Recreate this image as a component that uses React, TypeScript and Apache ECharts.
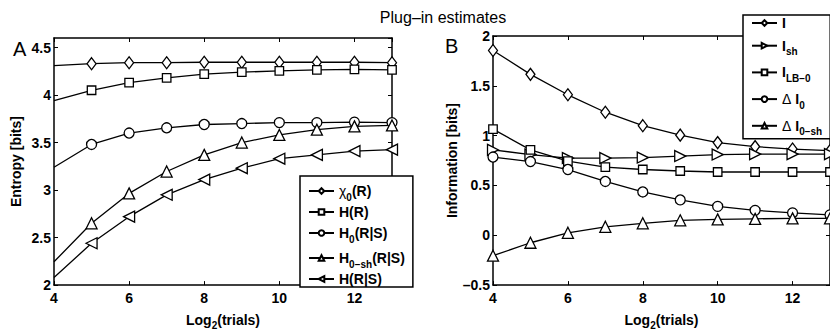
import React, { useEffect, useRef } from "react";
import * as echarts from "echarts";

const trials = [4, 5, 6, 7, 8, 9, 10, 11, 12, 13];

// Panel A (entropy)
const chi0R = [4.31, 4.33, 4.34, 4.34, 4.345, 4.345, 4.345, 4.345, 4.345, 4.34];
const hR = [3.94, 4.05, 4.13, 4.18, 4.22, 4.24, 4.255, 4.265, 4.27, 4.265];
const h0RS = [3.24, 3.48, 3.6, 3.655, 3.69, 3.7, 3.71, 3.71, 3.715, 3.71];
const h0shRS = [2.245, 2.65, 2.965, 3.195, 3.37, 3.5, 3.58, 3.635, 3.67, 3.68];
const hRS = [2.08, 2.44, 2.72, 2.95, 3.11, 3.23, 3.33, 3.37, 3.41, 3.425];

// Panel B (information)
const infoI = [1.855, 1.615, 1.41, 1.235, 1.1, 1.005, 0.93, 0.89, 0.865, 0.85];
const infoIsh = [0.857, 0.81, 0.775, 0.775, 0.78, 0.795, 0.81, 0.815, 0.815, 0.815];
const infoILB0 = [1.065, 0.857, 0.745, 0.685, 0.66, 0.645, 0.635, 0.635, 0.635, 0.635];
const deltaI0 = [0.785, 0.74, 0.66, 0.54, 0.435, 0.355, 0.29, 0.25, 0.225, 0.205];
const deltaI0sh = [-0.205, -0.075, 0.025, 0.085, 0.12, 0.15, 0.16, 0.165, 0.17, 0.17];

const FONT = "'Liberation Sans', Arial, Helvetica, sans-serif";

const legendRich: Record<string, string> = {
  "χ0(R)": "{n|χ}{s|0}{t|(R)}",
  "H(R)": "{t|H(R)}",
  "H0(R|S)": "{t|H}{s|0}{t|(R|S)}",
  "H0-sh(R|S)": "{t|H}{s|0−sh}{t|(R|S)}",
  "H(R|S)": "{t|H(R|S)}",
  "I": "{t|I}",
  "Ish": "{t|I}{s|sh}",
  "ILB-0": "{t|I}{s|LB−0}",
  "ΔI0": "{n|Δ }{t|I}{s|0}",
  "ΔI0-sh": "{n|Δ }{t|I}{s|0−sh}",
};

const rich = {
  t: { fontFamily: FONT, fontWeight: "bold", fontSize: 14, color: "#000", lineHeight: 20 },
  n: { fontFamily: FONT, fontWeight: "normal", fontSize: 14, color: "#000", lineHeight: 20 },
  s: { fontFamily: FONT, fontWeight: "bold", fontSize: 10, color: "#000", lineHeight: 8, padding: [12, 0, 0, 0] },
};

export default function App() {
  const ref = useRef<HTMLDivElement>(null);
  useEffect(() => {
    document.body.style.margin = "0";
    if (!ref.current) return;
    const chart = echarts.init(ref.current, null, { renderer: "svg" });

    const mk = (
      name: string,
      vals: number[],
      symbol: string,
      size: number | number[],
      rotate: number,
      axis: number,
      hideFirst: boolean
    ) => ({
      type: "line",
      name,
      xAxisIndex: axis,
      yAxisIndex: axis,
      symbol,
      symbolSize: size,
      symbolRotate: rotate,
      showAllSymbol: true,
      clip: false,
      data: trials.map((x, i) =>
        hideFirst && i === 0 ? { value: [x, vals[i]], symbol: "none" } : [x, vals[i]]
      ),
      lineStyle: { color: "#000", width: 1.3 },
      itemStyle: { color: "#fff", borderColor: "#000", borderWidth: 1.3 },
      emphasis: { disabled: true },
      z: 3,
    });

    const tickLabel = {
      fontFamily: FONT,
      fontWeight: "bold",
      fontSize: 14,
      color: "#000",
    };
    const axLine = { show: true, onZero: false, lineStyle: { color: "#000", width: 1.5 } };
    const axTick = { show: true, inside: true, length: 4, lineStyle: { color: "#000", width: 1 } };

    const xBottom = (grid: number) => ({
      type: "value",
      gridIndex: grid,
      position: "bottom",
      min: 4,
      max: 13,
      interval: 2,
      axisLine: axLine,
      axisTick: axTick,
      axisLabel: { ...tickLabel, margin: 6, showMaxLabel: false },
      splitLine: { show: false },
      name: "{b|Log}{s|2}{b|(trials)}",
      nameLocation: "middle",
      nameGap: 24,
      nameTextStyle: {
        rich: {
          b: { fontFamily: FONT, fontWeight: "bold", fontSize: 14, color: "#000", lineHeight: 16 },
          s: { fontFamily: FONT, fontWeight: "bold", fontSize: 10, color: "#000", lineHeight: 16, padding: [10, 0, 0, 0] },
        },
      },
    });
    const xTop = (grid: number) => ({
      type: "value",
      gridIndex: grid,
      position: "top",
      min: 4,
      max: 13,
      interval: 2,
      axisLine: axLine,
      axisTick: axTick,
      axisLabel: { show: false },
      splitLine: { show: false },
    });
    const yLeft = (grid: number, min: number, max: number, name: string, gap: number) => ({
      type: "value",
      gridIndex: grid,
      position: "left",
      min,
      max,
      interval: 0.5,
      axisLine: axLine,
      axisTick: axTick,
      axisLabel: {
        ...tickLabel,
        margin: 3,
        showMaxLabel: max % 0.5 === 0,
        formatter: (v: number) => (v < 0 ? "–" + String(-v) : String(v)),
      },
      splitLine: { show: false },
      name,
      nameLocation: "middle",
      nameGap: gap,
      nameTextStyle: { fontFamily: FONT, fontWeight: "bold", fontSize: 14, color: "#000" },
    });
    const yRight = (grid: number, min: number, max: number) => ({
      type: "value",
      gridIndex: grid,
      position: "right",
      min,
      max,
      interval: 0.5,
      axisLine: axLine,
      axisTick: axTick,
      axisLabel: { show: false },
      splitLine: { show: false },
    });

    const legendBase = {
      orient: "vertical",
      backgroundColor: "#fff",
      borderColor: "#000",
      borderWidth: 1.5,
      borderRadius: 0,
      itemWidth: 25,
      itemHeight: 7,
      selectedMode: false,
      formatter: (name: string) => legendRich[name] || name,
      textStyle: { rich, fontFamily: FONT, fontWeight: "bold", fontSize: 14, color: "#000" },
      z: 10,
    };

    chart.setOption({
      animation: false,
      backgroundColor: "#fff",
      title: {
        text: "Plug–in estimates",
        left: 438,
        top: 4,
        textAlign: "center",
        textStyle: { fontFamily: FONT, fontWeight: "normal", fontSize: 16, color: "#000" },
      },
      graphic: [
        { type: "text", left: 13, top: 39, style: { text: "A", font: `normal 20px ${FONT}`, fill: "#000" } },
        { type: "text", left: 445, top: 36, style: { text: "B", font: `normal 20px ${FONT}`, fill: "#000" } },
      ],
      grid: [
        { left: 54, right: 438, top: 38, bottom: 42, show: false },
        { left: 493, right: 0, top: 36, bottom: 46, show: false },
      ],
      xAxis: [xBottom(0), xTop(0), xBottom(1), xTop(1)],
      yAxis: [
        yLeft(0, 2, 4.6, "Entropy [bits]", 31),
        yRight(0, 2, 4.6),
        yLeft(1, -0.5, 2, "Information [bits]", 33),
        yRight(1, -0.5, 2),
      ],
      legend: [
        {
          ...legendBase,
          left: 300,
          top: 176,
          padding: [4, 8, 1, 8],
          itemGap: 3,
          data: ["χ0(R)", "H(R)", "H0(R|S)", "H0-sh(R|S)", "H(R|S)"],
        },
        {
          ...legendBase,
          left: 743,
          top: 15,
          padding: [1, 8, 2, 8],
          itemGap: 4.7,
          data: ["I", "Ish", "ILB-0", "ΔI0", "ΔI0-sh"],
        },
      ],
      series: [
        mk("χ0(R)", chi0R, "diamond", [9, 12], 0, 0, true),
        mk("H(R)", hR, "rect", 8.5, 0, 0, true),
        mk("H0(R|S)", h0RS, "circle", 10, 0, 0, true),
        mk("H0-sh(R|S)", h0shRS, "triangle", 11, 0, 0, true),
        mk("H(R|S)", hRS, "triangle", 11, 90, 0, true),
        { ...mk("I", infoI, "diamond", [9, 12], 0, 2, false), yAxisIndex: 2 },
        { ...mk("Ish", infoIsh, "triangle", 11, -90, 2, false), yAxisIndex: 2 },
        { ...mk("ILB-0", infoILB0, "rect", 8.5, 0, 2, false), yAxisIndex: 2 },
        { ...mk("ΔI0", deltaI0, "circle", 10, 0, 2, false), yAxisIndex: 2 },
        { ...mk("ΔI0-sh", deltaI0sh, "triangle", 11, 0, 2, false), yAxisIndex: 2 },
      ],
    });
    return () => chart.dispose();
  }, []);
  return <div ref={ref} style={{ width: 830, height: 335 }} />;
}
